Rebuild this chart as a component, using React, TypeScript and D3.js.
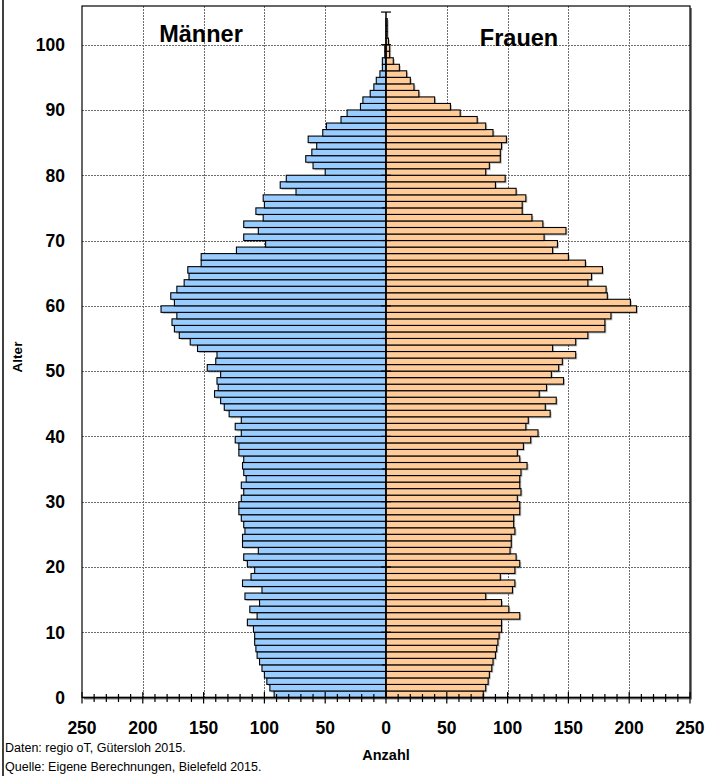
import React from "react";
import * as d3 from "d3";

// ---- data ----
const ages: number[] = d3.range(0, 105);

const maleCounts: number[] = [
  92, 95.5, 98, 100, 102, 104, 106, 107, 108, 108, // 0-9
  109, 114, 106, 112, 104, 116, 102, 118, 111, 108, // 10-19
  114, 117, 105, 118, 118, 116, 117, 119, 121, 121, // 20-29
  119, 117, 119, 115, 117, 118, 117, 121, 121, 124, // 30-39
  119, 124, 119, 129, 133, 136, 141, 138, 139, 136, // 40-49
  147, 140, 139, 155, 161, 170, 174, 176, 172, 185, // 50-59
  174, 177, 172, 166, 162, 163, 152, 152, 123, 99, // 60-69
  117, 105, 117, 101, 107, 100, 101, 74, 87, 82, // 70-79
  50, 60, 66, 61, 57, 64, 52, 49, 37, 32, // 80-89
  21, 19, 13, 10, 8, 5, 3, 3, 1, 1, // 90-99
  0, 0, 0, 0, 0, // 100-104
];

const femaleCounts: number[] = [
  80, 82, 84, 85, 87, 88, 90, 91, 92, 93, // 0-9
  95, 95, 110, 101, 95, 82, 104, 106, 94, 106, // 10-19
  110, 107, 102, 103, 103, 106, 105, 105, 110, 110, // 20-29
  108, 111, 110, 110, 111, 116, 110, 108, 113, 119, // 30-39
  125, 115, 117, 135, 131, 140, 126, 132, 146, 136, // 40-49
  142, 145, 156, 137, 156, 166, 180, 180, 185, 206, // 50-59
  201, 182, 181, 166, 169, 178, 164, 150, 137, 141, // 60-69
  130, 148, 129, 120, 112, 112, 115, 107, 90, 98, // 70-79
  82, 85, 94, 94, 95, 99, 88, 82, 75, 61, // 80-89
  53, 40, 27, 23, 20, 17, 11, 6, 3, 3, // 90-99
  2, 1, 1, 1, 0, // 100-104
];

const xTickValues: number[] = [-250, -200, -150, -100, -50, 0, 50, 100, 150, 200, 250];
const yTickValues: number[] = [0, 10, 20, 30, 40, 50, 60, 70, 80, 90, 100];
const titleMen = "Männer";
const titleWomen = "Frauen";
const yAxisTitle = "Alter";
const xAxisTitle = "Anzahl";
const sourceLines: string[] = [
  "Daten: regio oT, Gütersloh 2015.",
  "Quelle: Eigene Berechnungen, Bielefeld 2015.",
];

// ---- layout ----
const W = 709;
const H = 776;
const left = 82;
const right = 690;
const top = 6;
const bottom = 697.5;
const FONT = "Arial, 'Liberation Sans', Helvetica, sans-serif";
const BLUE = "#99CCFF";
const ORANGE = "#FFCC99";
const GRID = "#6e6e6e";

export default function App() {
  const x = d3.scaleLinear().domain([-250, 250]).range([left, right]);
  const y = d3.scaleLinear().domain([0, 100]).range([bottom, 44.7]);
  const x0 = x(0);

  const minorX = d3.range(-250, 251, 10);
  const centerTicks = d3.range(5, 106, 5);

  return (
    <svg
      width={W}
      height={H}
      style={{ position: "absolute", left: 0, top: 0, background: "#fff" }}
      fontFamily={FONT}
    >
      <rect x={0} y={0} width={W} height={H} fill="#fff" />
      {/* outer chart border (left edge) */}
      <line x1={3} x2={3} y1={0} y2={H} stroke="#000" strokeWidth={1.5} />

      {/* plot area shadow + background */}
      <rect x={left + 2} y={top + 2} width={right - left} height={bottom - top} fill="#808080" />
      <rect x={left} y={top} width={right - left} height={bottom - top} fill="#fff" />

      {/* gridlines */}
      {yTickValues.filter((v) => v > 0).map((v) => (
        <line
          key={"gy" + v}
          x1={left}
          x2={right}
          y1={Math.round(y(v)) + 0.5}
          y2={Math.round(y(v)) + 0.5}
          stroke={GRID}
          strokeWidth={1}
          strokeDasharray="2,1"
        />
      ))}
      {xTickValues.filter((v) => v !== 0 && Math.abs(v) !== 250).map((v) => (
        <line
          key={"gx" + v}
          x1={Math.round(x(v)) + 0.5}
          x2={Math.round(x(v)) + 0.5}
          y1={top}
          y2={bottom}
          stroke={GRID}
          strokeWidth={1}
          strokeDasharray="2,1"
        />
      ))}

      {/* bar shadows */}
      <g fill="#000" opacity={0.25}>
        {ages.map((a, i) =>
          maleCounts[i] > 0 ? (
            <rect
              key={"ms" + a}
              x={x(-maleCounts[i]) + 1.5}
              y={y(a + 1) + 1.5}
              width={x0 - x(-maleCounts[i])}
              height={y(a) - y(a + 1)}
            />
          ) : null
        )}
        {ages.map((a, i) =>
          femaleCounts[i] > 0 ? (
            <rect
              key={"fs" + a}
              x={x0 + 1.5}
              y={y(a + 1) + 1.5}
              width={x(femaleCounts[i]) - x0}
              height={y(a) - y(a + 1)}
            />
          ) : null
        )}
      </g>

      {/* bars */}
      <g stroke="#000" strokeWidth={1.1}>
        {ages.map((a, i) =>
          maleCounts[i] > 0 ? (
            <rect
              key={"m" + a}
              x={x(-maleCounts[i])}
              y={y(a + 1)}
              width={x0 - x(-maleCounts[i])}
              height={y(a) - y(a + 1)}
              fill={BLUE}
            />
          ) : null
        )}
        {ages.map((a, i) =>
          femaleCounts[i] > 0 ? (
            <rect
              key={"f" + a}
              x={x0}
              y={y(a + 1)}
              width={x(femaleCounts[i]) - x0}
              height={y(a) - y(a + 1)}
              fill={ORANGE}
            />
          ) : null
        )}
      </g>

      {/* plot frame */}
      <rect
        x={left}
        y={top}
        width={right - left}
        height={bottom - top}
        fill="none"
        stroke="#000"
        strokeWidth={1.2}
      />

      {/* central age axis */}
      <line x1={x0} x2={x0} y1={y(0)} y2={y(105)} stroke="#000" strokeWidth={1.5} />
      {centerTicks.map((v) => {
        const major = v % 10 === 0 || v === 105;
        return (
          <line
            key={"ct" + v}
            x1={x0 - (major ? 5 : 4)}
            x2={major ? x0 + 5 : x0}
            y1={y(v)}
            y2={y(v)}
            stroke="#000"
            strokeWidth={1.2}
          />
        );
      })}

      {/* x axis */}
      <line x1={left} x2={right} y1={bottom} y2={bottom} stroke="#000" strokeWidth={1.5} />
      {minorX.map((v) => {
        const major = v % 50 === 0;
        return (
          <line
            key={"xt" + v}
            x1={x(v)}
            x2={x(v)}
            y1={bottom - (major ? 5.5 : 3.5)}
            y2={bottom + (major ? 6 : 4.5)}
            stroke="#000"
            strokeWidth={1.2}
          />
        );
      })}

      {/* x tick labels */}
      {xTickValues.map((v) => (
        <text
          key={"xl" + v}
          x={x(v)}
          y={733.5}
          textAnchor="middle"
          fontSize={17.5}
          fontWeight="bold"
          fill="#000"
        >
          {Math.abs(v)}
        </text>
      ))}

      {/* y tick labels */}
      {yTickValues.map((v) => (
        <text
          key={"yl" + v}
          x={65}
          y={y(v) + 6.3}
          textAnchor="end"
          fontSize={17.5}
          fontWeight="bold"
          fill="#000"
        >
          {v}
        </text>
      ))}

      {/* titles */}
      <text x={201} y={41.5} textAnchor="middle" fontSize={23.5} fontWeight="bold" fill="#000">
        {titleMen}
      </text>
      <text x={519} y={45.5} textAnchor="middle" fontSize={23.5} fontWeight="bold" fill="#000">
        {titleWomen}
      </text>

      {/* axis titles */}
      <text
        transform={`translate(22,357) rotate(-90)`}
        textAnchor="middle"
        fontSize={13.5}
        fontWeight="bold"
        fill="#000"
      >
        {yAxisTitle}
      </text>
      <text x={386} y={760} textAnchor="middle" fontSize={14.5} fontWeight="bold" fill="#000">
        {xAxisTitle}
      </text>

      {/* source notes */}
      {sourceLines.map((s, i) => (
        <text key={"src" + i} x={5} y={751.5 + i * 19} fontSize={12.5} fill="#000">
          {s}
        </text>
      ))}
    </svg>
  );
}
